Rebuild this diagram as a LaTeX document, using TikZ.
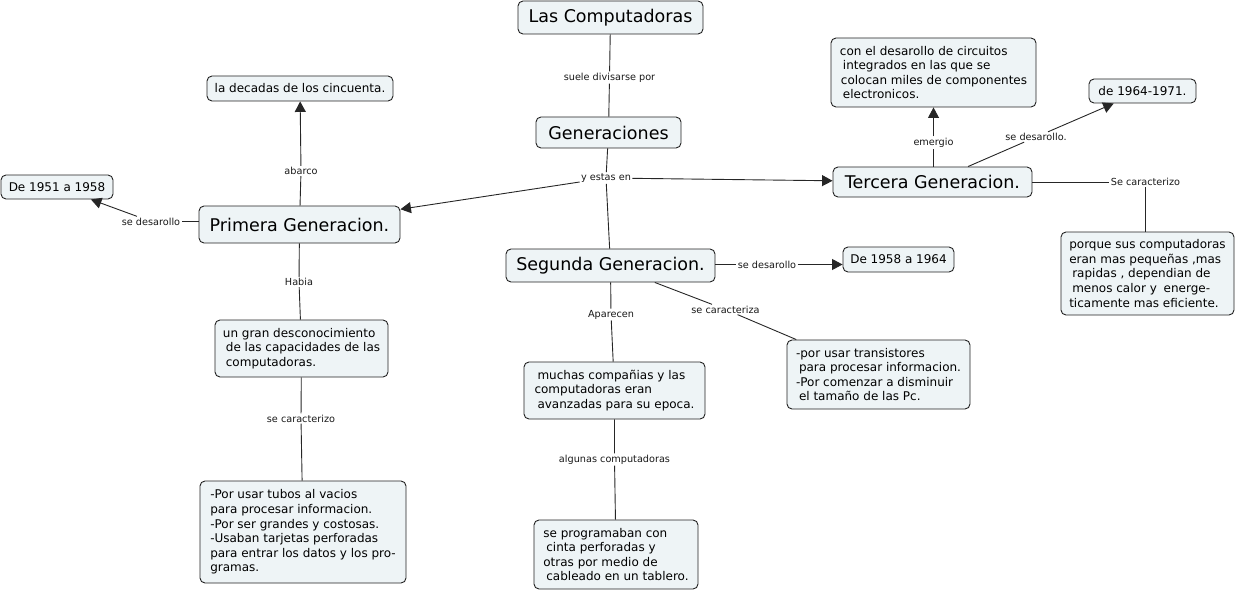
\documentclass[tikz,border=0pt]{standalone}
\usepackage{fontspec}
\setmainfont{DejaVu Sans}
\usetikzlibrary{arrows.meta}
\definecolor{boxfill}{HTML}{EEF4F6}
\definecolor{boxline}{HTML}{222222}
\tikzset{
  box/.style={draw=boxline, fill=boxfill, rounded corners=5pt, line width=0.9pt, inner sep=0pt, align=left, text=black},
  big/.style={box, font=\fontsize{17.5}{21}\selectfont},
  body/.style={box, font=\fontsize{12}{14.6}\selectfont},
  lbl/.style={fill=white, inner sep=1.2pt, font=\fontsize{9.7}{11}\selectfont, text=black!90},
  conn/.style={draw=black!85, line width=0.9pt},
  arr/.style={conn, -{Triangle[length=10.5pt,width=11pt]}}
}
\begin{document}
\begin{tikzpicture}[x=1pt,y=-1pt]
\useasboundingbox (0,0) rectangle (1237,591);
% main nodes
\node[big, minimum width=185pt, minimum height=33pt] (comp) at (610.5,17.5) {Las Computadoras};
\node[big, minimum width=145pt, minimum height=31pt] (gen) at (608.5,132.5) {Generaciones};
\node[big, minimum width=201pt, minimum height=37pt] (prim) at (299.5,224.5) {Primera Generacion.};
\node[big, minimum width=209pt, minimum height=33pt] (seg) at (610.5,265.5) {Segunda Generacion.};
\node[big, minimum width=199pt, minimum height=30pt] (terc) at (932.5,182) {Tercera Generacion.};
% body nodes
\node[body, minimum width=186pt, minimum height=25pt] (dec) at (300,88.5) {la decadas de los cincuenta.};
\node[body, minimum width=112pt, minimum height=24pt] (d51) at (57,187) {De 1951 a 1958};
\node[body, minimum width=111pt, minimum height=25pt] (d58) at (898.5,259.5) {De 1958 a 1964};
\node[body, minimum width=107pt, minimum height=24pt] (d64) at (1142.5,91) {de 1964-1971.};
\node[body, minimum width=205pt, minimum height=69pt] (circ) at (933.5,72.5) {con el desarollo de circuitos\\\hspace{3pt}integrados en las que se\\\hspace{1pt}colocan miles de componentes\\\hspace{3pt}electronicos.};
\node[body, minimum width=173pt, minimum height=83pt] (porq) at (1147.5,273.5) {porque sus computadoras\\eran mas pequeñas ,mas\\\hspace{3pt}rapidas , dependian de\\\hspace{3pt}menos calor y\hspace{3pt} energe-\\ticamente mas eficiente.};
\node[body, minimum width=173pt, minimum height=57pt] (desc) at (301.5,348.5) {un gran desconocimiento\\\hspace{3pt}de las capacidades de las\\\hspace{3pt}computadoras.};
\node[body, minimum width=183pt, minimum height=69pt] (trans) at (878.5,374.5) {-por usar transistores\\\hspace{3pt}para procesar informacion.\\-Por comenzar a disminuir\\\hspace{3pt}el tamaño de las Pc.};
\node[body, minimum width=181pt, minimum height=57pt] (much) at (614.5,390.5) {\hspace{3pt}muchas compañias y las\\computadoras eran\\\hspace{3pt}avanzadas para su epoca.};
\node[body, minimum width=206pt, minimum height=102pt] (tubos) at (303,532) {-Por usar tubos al vacios\\para procesar informacion.\\-Por ser grandes y costosas.\\-Usaban tarjetas perforadas\\para entrar los datos y los pro-\\gramas.};
\node[body, minimum width=164pt, minimum height=69pt] (prog) at (616,554.5) {se programaban con\\\hspace{3pt}cinta perforadas y\\otras por medio de\\\hspace{3pt}cableado en un tablero.};
% labels
\node[lbl] (l1) at (609.5,77.5) {suele divisarse por};
\node[lbl] (ye) at (606,178) {y estas en};
\node[lbl] (l2) at (301,171) {abarco};
\node[lbl] (l3) at (151,221.5) {se desarollo};
\node[lbl] (l4) at (299,282) {Habia};
\node[lbl] (l5) at (301,418.5) {se caracterizo};
\node[lbl] (l6) at (767,264.5) {se desarollo};
\node[lbl] (l7) at (611,314.5) {Aparecen};
\node[lbl] (l8) at (725.5,309.5) {se caracteriza};
\node[lbl] (l9) at (614.5,459.5) {algunas computadoras};
\node[lbl] (l10) at (933.5,142.5) {emergio};
\node[lbl] (l11) at (1036,137) {se desarollo.};
\node[lbl] (l12) at (1145.5,182) {Se caracterizo};
% connectors
\draw[conn] (comp) -- (l1) -- (gen);
\draw[conn] (gen) -- (ye) -- (seg);
\draw[arr] (ye) -- (prim);
\draw[arr] (ye) -- (terc);
\draw[arr] (prim) -- (l2) -- (dec);
\draw[conn] (prim.west |- l3) -- (l3);
\draw[arr] (l3) -- (d51);
\draw[conn] (prim) -- (l4) -- (desc);
\draw[conn] (desc) -- (l5) -- (tubos);
\draw[conn] (seg.east |- l6) -- (l6);
\draw[arr] (l6) -- (d58.west |- l6);
\draw[conn] (seg) -- (l7) -- (much);
\draw[conn] (seg) -- (l8) -- (trans);
\draw[conn] (much) -- (l9) -- (prog);
\draw[arr] (terc.north -| l10) -- (l10) -- (circ.south -| l10);
\draw[arr] (terc) -- (l11) -- (d64);
\draw[conn] (terc.east |- l12) -- (l12) -- (porq.north -| l12);
\end{tikzpicture}
\end{document}
